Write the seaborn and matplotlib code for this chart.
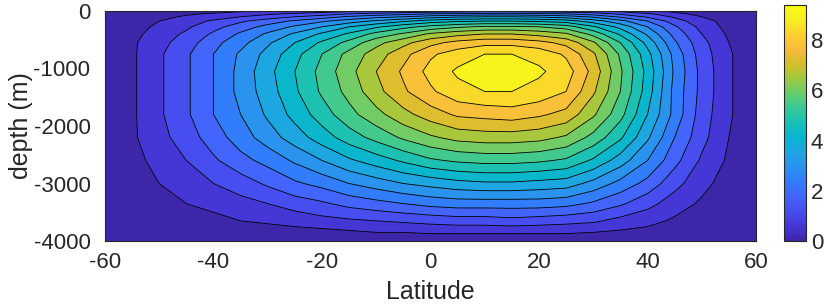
"""Overturning streamfunction section: filled contours of psi vs latitude and depth."""

import numpy as np
import matplotlib
matplotlib.use("Agg")
import matplotlib.pyplot as plt
import seaborn as sns

# --- Data ---
latitude = [-60, -55, -50, -45, -40, -35, -30, -25, -20, -15, -10, -5, 0,
            5, 10, 15, 20, 25, 30, 35, 40, 45, 50, 55, 60]
depth = [0, -5, -12, -25, -50, -100, -175, -275, -400, -550, -750, -1050, -1400,
         -1800, -2200, -2600, -3000, -3350, -3650, -3850, -4000]

# streamfunction in tenths, one row per depth, one column per latitude
psi_tenths = [
    [0, 0, 0, 0, 0, 0, 0, 0, 0, 0, 0, 0, 0, 0, 0, 0, 0, 0, 0, 0, 0, 0, 0, 0, 0],
    [0, 0, 1, 1, 2, 3, 3, 4, 4, 5, 6, 6, 7, 7, 7, 7, 7, 7, 6, 5, 4, 2, 1, 1, 0],
    [0, 1, 2, 3, 5, 6, 8, 9, 11, 12, 14, 15, 16, 17, 18, 18, 17, 16, 14, 12, 9, 5, 3, 1, 0],
    [0, 1, 2, 4, 5, 7, 9, 10, 12, 14, 16, 17, 19, 20, 20, 21, 20, 19, 17, 13, 10, 6, 3, 2, 0],
    [0, 2, 3, 5, 7, 9, 11, 13, 15, 18, 20, 22, 24, 25, 26, 26, 25, 24, 21, 17, 13, 8, 4, 2, 0],
    [0, 2, 4, 7, 9, 12, 15, 18, 21, 25, 28, 30, 33, 35, 36, 36, 35, 33, 29, 23, 17, 11, 6, 3, 0],
    [0, 3, 6, 9, 13, 17, 21, 25, 29, 33, 37, 41, 45, 47, 48, 48, 47, 45, 39, 32, 24, 15, 8, 4, 0],
    [0, 4, 7, 11, 16, 21, 26, 31, 36, 42, 47, 52, 56, 59, 61, 61, 60, 57, 49, 40, 30, 19, 10, 4, 0],
    [0, 4, 9, 13, 19, 25, 31, 37, 43, 49, 56, 61, 67, 70, 72, 72, 70, 67, 58, 47, 35, 22, 12, 5, 0],
    [0, 5, 10, 15, 22, 28, 35, 42, 49, 56, 64, 70, 76, 80, 82, 82, 80, 76, 67, 54, 40, 25, 14, 6, 0],
    [0, 5, 11, 17, 24, 31, 38, 46, 54, 62, 69, 76, 83, 87, 90, 90, 88, 83, 73, 59, 44, 28, 15, 7, 0],
    [0, 5, 11, 17, 24, 32, 40, 48, 56, 64, 72, 79, 86, 91, 93, 94, 91, 87, 76, 61, 46, 29, 16, 7, 0],
    [0, 5, 11, 17, 24, 32, 39, 47, 55, 62, 70, 77, 83, 88, 90, 90, 88, 84, 73, 60, 45, 28, 16, 7, 0],
    [0, 5, 11, 17, 24, 30, 37, 44, 51, 58, 64, 70, 75, 79, 80, 81, 79, 76, 67, 56, 42, 28, 15, 7, 0],
    [0, 5, 10, 15, 21, 27, 33, 39, 45, 51, 56, 61, 65, 68, 69, 69, 68, 65, 58, 49, 37, 24, 14, 6, 0],
    [0, 4, 8, 12, 17, 22, 26, 31, 36, 41, 45, 49, 53, 55, 56, 56, 55, 53, 47, 39, 30, 20, 11, 5, 0],
    [0, 3, 6, 9, 12, 15, 19, 23, 26, 30, 33, 36, 38, 40, 41, 41, 40, 39, 34, 28, 22, 14, 8, 3, 0],
    [0, 2, 4, 6, 8, 10, 12, 15, 17, 20, 22, 24, 26, 27, 27, 27, 27, 26, 23, 19, 14, 9, 5, 2, 0],
    [0, 1, 2, 3, 4, 6, 7, 8, 10, 11, 12, 13, 14, 15, 15, 16, 15, 14, 13, 10, 8, 5, 3, 1, 0],
    [0, 0, 1, 1, 2, 3, 3, 4, 4, 5, 6, 6, 7, 7, 7, 7, 7, 7, 6, 5, 4, 2, 1, 1, 0],
    [0, 0, 0, 0, 0, 0, 0, 0, 0, 0, 0, 0, 0, 0, 0, 0, 0, 0, 0, 0, 0, 0, 0, 0, 0],
]
contour_levels = [0.6, 1.2, 1.8, 2.4, 3.0, 3.6, 4.2, 4.8, 5.4, 6.0, 6.6, 7.2, 7.8, 8.4, 9.0]
xticks = [-60, -40, -20, 0, 20, 40, 60]
yticks = [-4000, -3000, -2000, -1000, 0]
cbar_ticks = [0, 2, 4, 6, 8]

psi = np.array(psi_tenths) / 10.0

# parula-like colormap (MATLAB default)
parula = [(0.2422, 0.1504, 0.6603), (0.2706, 0.2147, 0.8364), (0.2813, 0.3006, 0.9414),
          (0.2699, 0.3892, 0.9906), (0.1963, 0.4847, 0.9892), (0.1687, 0.5703, 0.9359),
          (0.1248, 0.6459, 0.8883), (0.0297, 0.7082, 0.8163), (0.0964, 0.7500, 0.7120),
          (0.2161, 0.7843, 0.5923), (0.3909, 0.8029, 0.4354), (0.6174, 0.7876, 0.2612),
          (0.8203, 0.7498, 0.1535), (0.9728, 0.7298, 0.2394), (0.9892, 0.8136, 0.1885),
          (0.9628, 0.9373, 0.1265), (0.9769, 0.9839, 0.0805)]
cmap = sns.blend_palette(parula, n_colors=256, as_cmap=True)

sns.set_style("white")
plt.rcParams["font.family"] = ["Liberation Sans", "DejaVu Sans"]
plt.rcParams["axes.unicode_minus"] = False

vmax = psi.max()
# MATLAB contourf colours each band with the colour of its lower level
fill_levels = [-0.01] + contour_levels + [psi.max() + 1]
band_colors = [cmap(0.0)] + [cmap(v / vmax) for v in contour_levels]

fig = plt.figure(figsize=(8.3, 3.06), dpi=100)
ax = fig.add_axes([105 / 830, 65 / 306, 651 / 830, 230 / 306])
cax = fig.add_axes([784 / 830, 65 / 306, 22 / 830, 236 / 306])

ax.contourf(latitude, depth, psi, levels=fill_levels, colors=band_colors)
ax.contour(latitude, depth, psi, levels=contour_levels, colors="k", linewidths=0.6)
ax.set_xlim(-60, 60)
ax.set_ylim(-4000, 0)
ax.set_xticks(xticks)
ax.set_yticks(yticks)
ax.set_yticklabels([str(v) for v in yticks])
ax.tick_params(direction="in", top=True, right=True, length=5, labelsize=16, color="#262626")
ax.tick_params(axis="x", pad=8)
ax.tick_params(axis="y", pad=10.5)
ax.set_xlabel("Latitude", fontsize=18, labelpad=5)
ax.set_ylabel("depth (m)", fontsize=18, labelpad=0.5)
for s in ax.spines.values():
    s.set_color("#262626")
    s.set_linewidth(0.8)

sm = plt.cm.ScalarMappable(cmap=cmap, norm=plt.Normalize(0, vmax))
cb = fig.colorbar(sm, cax=cax, ticks=cbar_ticks)
cb.ax.tick_params(direction="in", length=5, labelsize=16, color="#262626")
cb.outline.set_edgecolor("#262626")

fig.savefig("out.png", dpi=100)
plt.close()
print("Saved: out.png")
